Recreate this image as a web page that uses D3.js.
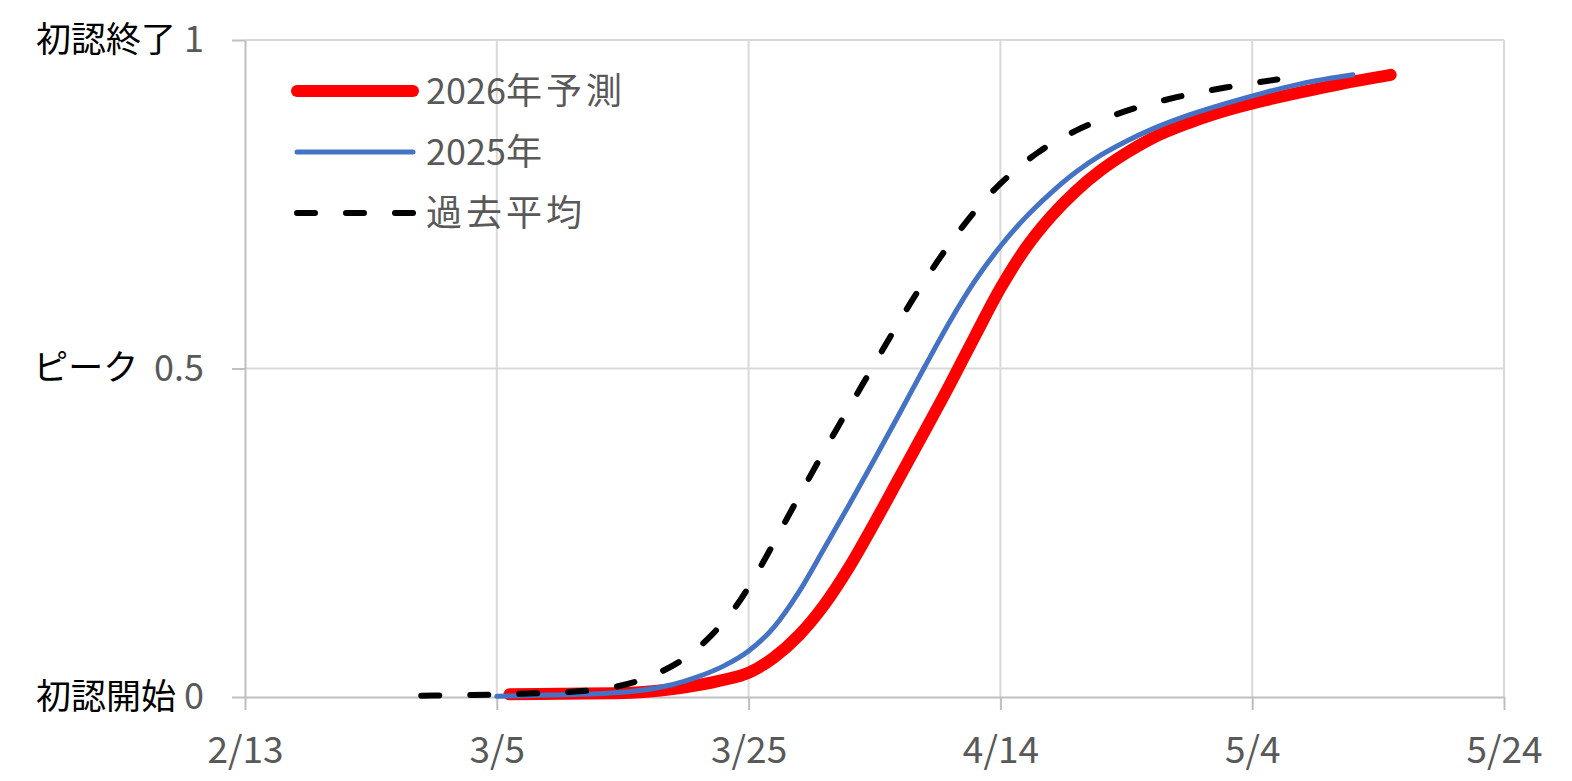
<!DOCTYPE html>
<html>
<head>
<meta charset="utf-8">
<script src="https://cdn.jsdelivr.net/npm/d3@7"></script>
<style>
  html, body { margin: 0; padding: 0; background: #fff; }
  svg { display: block; }
  text { font-family: "Noto Sans CJK JP", "Noto Sans", sans-serif; }
</style>
</head>
<body>
<svg id="chart" width="1572" height="781"></svg>
<script>
// ---- data ----
const xTickLabels = ["2/13", "3/5", "3/25", "4/14", "5/4", "5/24"];
const yTickValues = [0, 0.5, 1];
const yTickNames = ["初認開始", "ピーク\u00A0", "初認終了"];
const seriesNames = ["2026年予測", "2025年", "過去平均"];

const forecast2026Dates = ["3/6","3/10","3/15","3/18","3/21","3/23","3/25","3/27","3/29","3/31","4/2","4/4","4/6","4/8","4/10","4/12","4/14","4/16","4/18","4/20","4/22","4/24","4/26","4/29","5/2","5/5","5/8","5/11","5/15"];
const forecast2026Values = [0.004,0.005,0.006,0.010,0.018,0.026,0.037,0.060,0.094,0.140,0.198,0.265,0.335,0.405,0.476,0.550,0.622,0.683,0.731,0.770,0.802,0.828,0.850,0.874,0.893,0.908,0.921,0.933,0.947];

const actual2025Dates = ["3/5","3/9","3/13","3/16","3/19","3/21","3/23","3/25","3/27","3/29","3/31","4/2","4/4","4/6","4/8","4/10","4/12","4/14","4/16","4/18","4/20","4/22","4/24","4/26","4/29","5/2","5/5","5/8","5/12"];
const actual2025Values = [0.001,0.003,0.005,0.009,0.019,0.031,0.047,0.070,0.106,0.160,0.226,0.293,0.362,0.432,0.503,0.572,0.634,0.686,0.730,0.767,0.799,0.825,0.846,0.864,0.886,0.904,0.920,0.934,0.947];

const pastAvgDates = ["2/27","3/3","3/7","3/11","3/14","3/16","3/18","3/20","3/22","3/24","3/26","3/28","3/30","4/1","4/3","4/5","4/7","4/9","4/11","4/13","4/15","4/17","4/20","4/24","4/28","5/2","5/6"];
const pastAvgValues = [0.002,0.003,0.005,0.008,0.014,0.023,0.038,0.060,0.093,0.138,0.200,0.270,0.340,0.408,0.474,0.540,0.604,0.663,0.716,0.762,0.799,0.829,0.862,0.892,0.913,0.928,0.940];

// ---- helpers ----
const parseMD = s => { const [m, d] = s.split("/").map(Number); return new Date(Date.UTC(2026, m - 1, d)); };
const fmtMD = d => (d.getUTCMonth() + 1) + "/" + d.getUTCDate();

const svg = d3.select("#chart");
const plotL = 245, plotR = 1504, plotT = 40, plotB = 697;
const FONT = "'Noto Sans CJK JP', sans-serif";

const xTicks = xTickLabels.map(parseMD);
const x = d3.scaleUtc().domain([xTicks[0], xTicks[xTicks.length - 1]]).range([plotL, plotR]);
const y = d3.scaleLinear().domain([0, 1]).range([plotB, plotT]);

// gridlines
const grid = svg.append("g");
grid.selectAll(".vg").data(xTicks.slice(1)).join("line")
  .attr("x1", d => x(d)).attr("x2", d => x(d)).attr("y1", plotT).attr("y2", plotB)
  .attr("stroke", "#d9d9d9").attr("stroke-width", 2);
grid.selectAll(".hg").data(yTickValues.filter(v => v > 0)).join("line")
  .attr("x1", plotL).attr("x2", plotR).attr("y1", d => y(d)).attr("y2", d => y(d))
  .attr("stroke", "#d9d9d9").attr("stroke-width", 2);

// x axis
const xAxis = svg.append("g").attr("transform", `translate(0,${plotB})`)
  .call(d3.axisBottom(x).tickValues(xTicks).tickFormat(fmtMD).tickSize(13).tickSizeOuter(0).tickPadding(27));
xAxis.select(".domain").attr("stroke", "#bfbfbf").attr("stroke-width", 2);
xAxis.selectAll(".tick line").attr("stroke", "#bfbfbf").attr("stroke-width", 2);
xAxis.selectAll(".tick text").attr("fill", "#595959").attr("font-size", 37).attr("font-family", FONT);

// y axis
const yAxis = svg.append("g").attr("transform", `translate(${plotL},0)`)
  .call(d3.axisLeft(y).tickValues(yTickValues).tickFormat(d => String(d)).tickSize(13).tickSizeOuter(0).tickPadding(28));
yAxis.select(".domain").attr("stroke", "#bfbfbf").attr("stroke-width", 2);
yAxis.selectAll(".tick line").attr("stroke", "#bfbfbf").attr("stroke-width", 2);
yAxis.selectAll(".tick text").attr("fill", "#595959").attr("font-size", 36).attr("font-family", FONT);

// y names (black) to the left of numbers
yAxis.selectAll(".tick").each(function(d) {
  const t = d3.select(this).select("text");
  const w = t.node().getComputedTextLength();
  const i = yTickValues.indexOf(d);
  d3.select(this).append("text")
    .attr("x", -(13 + 28) - w - 8)
    .attr("dy", "0.32em")
    .attr("text-anchor", "end")
    .attr("fill", "#000")
    .attr("font-size", 35)
    .attr("font-family", FONT)
    .style("white-space", "pre")
    .text(yTickNames[i]);
});

// series
const line = d3.line().x(d => x(d[0])).y(d => y(d[1])).curve(d3.curveMonotoneX);
const mk = (dates, vals) => dates.map((s, i) => [parseMD(s), vals[i]]);

const styles = [
  { stroke: "#ff0000", width: 12, dash: null },
  { stroke: "#4472c4", width: 5, dash: null },
  { stroke: "#000000", width: 6, dash: "18,31" }
];
const series = [
  mk(forecast2026Dates, forecast2026Values),
  mk(actual2025Dates, actual2025Values),
  mk(pastAvgDates, pastAvgValues)
];
series.forEach((data, i) => {
  const s = styles[i];
  svg.append("path").datum(data)
    .attr("fill", "none").attr("stroke", s.stroke).attr("stroke-width", s.width)
    .attr("stroke-linecap", "round").attr("stroke-linejoin", "round")
    .attr("stroke-dasharray", s.dash)
    .attr("d", line);
});

// legend
const legend = svg.append("g");
const legY = [91, 152, 213];
seriesNames.forEach((name, i) => {
  const s = styles[i];
  legend.append("line")
    .attr("x1", 297).attr("x2", 413).attr("y1", legY[i]).attr("y2", legY[i])
    .attr("stroke", s.stroke).attr("stroke-width", s.width)
    .attr("stroke-linecap", "round").attr("stroke-dasharray", s.dash);
  const t = legend.append("text")
    .attr("x", 426).attr("y", legY[i]).attr("dy", "0.36em")
    .attr("fill", "#595959").attr("font-size", 36)
    .attr("font-family", FONT);
  name.split(/([0-9]+)/).filter(p => p.length).forEach(p => {
    t.append("tspan")
      .attr("letter-spacing", /^[0-9]+$/.test(p) ? 0 : 4)
      .text(p);
  });
});
</script>
</body>
</html>
